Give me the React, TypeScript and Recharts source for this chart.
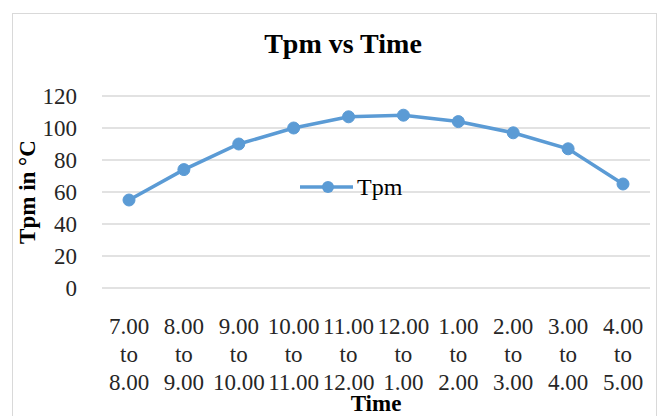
import { LineChart, Line, XAxis, YAxis, CartesianGrid, Legend } from 'recharts';

const categories = [
  '7.00\nto\n8.00',
  '8.00\nto\n9.00',
  '9.00\nto\n10.00',
  '10.00\nto\n11.00',
  '11.00\nto\n12.00',
  '12.00\nto\n1.00',
  '1.00\nto\n2.00',
  '2.00\nto\n3.00',
  '3.00\nto\n4.00',
  '4.00\nto\n5.00',
];
const tpm = [55, 74, 90, 100, 107, 108, 104, 97, 87, 65];
const yTicks = [0, 20, 40, 60, 80, 100, 120];

const data = categories.map((time, i) => ({ time, Tpm: tpm[i] }));

const FONT = '"Liberation Serif", "Times New Roman", serif';
const BLUE = '#5B9BD5';

const TimeTick = ({ x, y, payload }: any) => {
  const lines = String(payload.value).split('\n');
  return (
    <text x={x} y={y} textAnchor="middle" fontFamily={FONT} fontSize={23} fill="#262626">
      {lines.map((l, i) => (
        <tspan key={i} x={x} dy={i === 0 ? 46 : 28}>
          {l}
        </tspan>
      ))}
    </text>
  );
};

const YLabel = ({ viewBox }: any) => {
  const cy = viewBox.y + viewBox.height / 2;
  return (
    <text
      x={35}
      y={cy}
      transform={`rotate(-90, 35, ${cy})`}
      textAnchor="middle"
      fontFamily={FONT}
      fontSize={23}
      fontWeight="bold"
      fill="#000"
    >
      Tpm in °C
    </text>
  );
};

export default function App() {
  return (
    <div style={{ position: 'absolute', left: 0, top: 0, width: 668, height: 416, background: '#fff', overflow: 'hidden' }}>
      <div
        style={{
          position: 'absolute',
          left: 12,
          top: 13,
          width: 645,
          height: 420,
          border: '1px solid #d9d9d9',
          boxSizing: 'border-box',
        }}
      />
      <div
        style={{
          position: 'absolute',
          left: 0,
          width: 686,
          top: 28,
          textAlign: 'center',
          fontFamily: FONT,
          fontWeight: 'bold',
          fontSize: 28,
          lineHeight: '32px',
          color: '#000',
        }}
      >
        Tpm vs Time
      </div>
      <div style={{ position: 'absolute', left: 0, top: 0 }}>
        <LineChart width={668} height={416} data={data} margin={{ top: 96, right: 18, bottom: 0, left: 12 }}>
          <CartesianGrid vertical={false} stroke="#d9d9d9" strokeWidth={1.5} />
          <XAxis
            dataKey="time"
            interval={0}
            height={128}
            padding={{ left: 27, right: 27 }}
            axisLine={false}
            tickLine={false}
            tickSize={0}
            tickMargin={0}
            tick={<TimeTick />}
            label={{
              value: 'Time',
              position: 'insideBottom',
              offset: 5,
              style: { fontFamily: FONT, fontSize: 23, fontWeight: 'bold', fill: '#000' },
            }}
          />
          <YAxis
            width={90}
            domain={[0, 120]}
            ticks={yTicks}
            interval={0}
            axisLine={false}
            tickLine={false}
            tickSize={0}
            tickMargin={25}
            tick={{ fontFamily: FONT, fontSize: 23, fill: '#262626' }}
            label={<YLabel />}
          />
          <Legend
            layout="horizontal"
            verticalAlign="middle"
            align="center"
            wrapperStyle={{ top: 170, left: 290, width: 130, height: 34 }}
            content={() => (
              <svg width={130} height={34} style={{ overflow: 'visible' }}>
                <line x1={10} x2={63} y1={17} y2={17} stroke={BLUE} strokeWidth={3.5} />
                <circle cx={38} cy={17} r={6} fill={BLUE} />
                <text x={67} y={25} fontFamily={FONT} fontSize={24} fill="#000">
                  Tpm
                </text>
              </svg>
            )}
          />
          <Line
            type="linear"
            dataKey="Tpm"
            stroke={BLUE}
            strokeWidth={3.5}
            dot={{ r: 6, fill: BLUE, stroke: BLUE, strokeWidth: 1 }}
            activeDot={false}
            isAnimationActive={false}
          />
        </LineChart>
      </div>
    </div>
  );
}
